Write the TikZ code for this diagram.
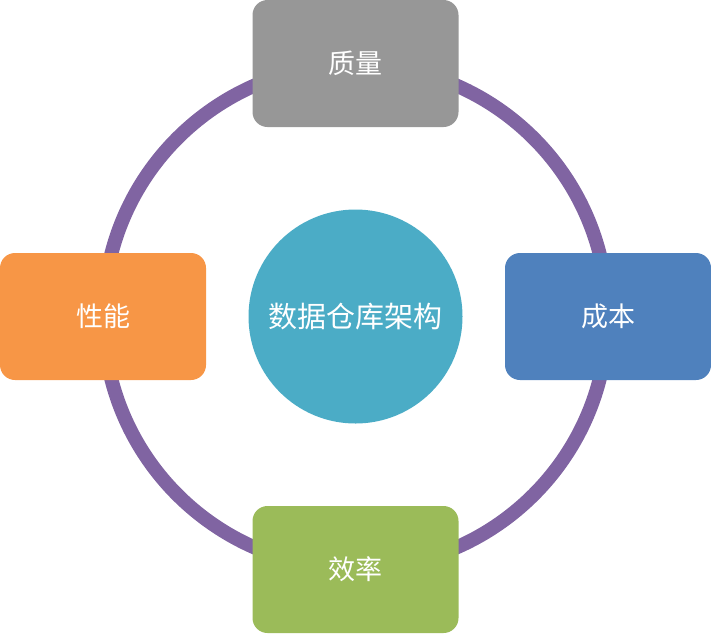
\documentclass[tikz,border=0pt]{standalone}
\usepackage{fontspec}
\newfontfamily\cjk{Noto Sans CJK SC}
\definecolor{ringc}{HTML}{8064A2}
\definecolor{grayc}{HTML}{979797}
\definecolor{orangec}{HTML}{F79646}
\definecolor{bluec}{HTML}{4F81BD}
\definecolor{greenc}{HTML}{9BBB59}
\definecolor{tealc}{HTML}{4BACC6}
\tikzset{
  boxnode/.style={rectangle, rounded corners=15pt, minimum width=206pt, minimum height=127pt, inner sep=0pt, text=white, font=\cjk\fontsize{27}{30}\selectfont},
  hubnode/.style={circle, minimum size=214pt, inner sep=0pt, fill=tealc, text=white, font=\cjk\fontsize{29}{32}\selectfont}
}
\begin{document}
\begin{tikzpicture}[x=1pt,y=-1pt]
\useasboundingbox (0,0) rectangle (711,633);
\coordinate (c) at (355.5,316.5);
\draw[ringc, line width=14pt] (c) circle[radius=252];
\node[hubnode] (hub) at (c) {数据仓库架构};
\node[boxnode, fill=grayc] (q) at (355.5,63.5) {质量};
\node[boxnode, fill=orangec] (p) at (103,316.5) {性能};
\node[boxnode, fill=bluec] (k) at (608,316.5) {成本};
\node[boxnode, fill=greenc] (e) at (355.5,569.5) {效率};
\end{tikzpicture}
\end{document}
